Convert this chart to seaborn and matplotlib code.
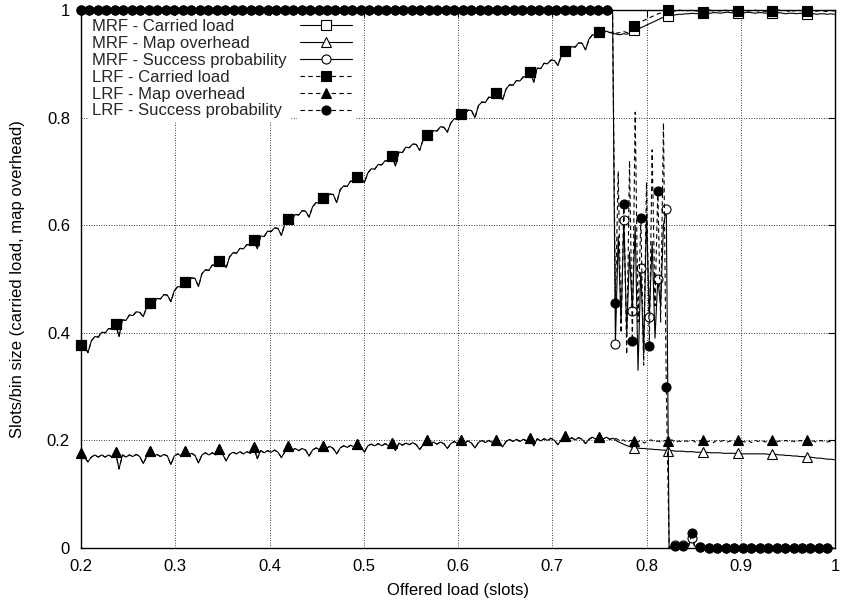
import numpy as np
import pandas as pd
import matplotlib
matplotlib.use("Agg")
import matplotlib.pyplot as plt
from matplotlib.lines import Line2D
import seaborn as sns

# ---------------- data ----------------
STEP_MAIN = 11 / 3000   # sample spacing of load / overhead curves
STEP_SUCC = 0.003       # sample spacing of success-probability curves
X_START = 0.2

# carried load, common to MRF and LRF up to x ~ 0.76
carried_common = [
    0.377, 0.376, 0.363, 0.385, 0.393, 0.392, 0.401, 0.400, 0.408, 0.407,
    0.416, 0.393, 0.424, 0.423, 0.433, 0.432, 0.439, 0.438, 0.430, 0.447,
    0.455, 0.454, 0.464, 0.463, 0.471, 0.470, 0.458, 0.478, 0.486, 0.485,
    0.495, 0.494, 0.502, 0.501, 0.486, 0.510, 0.517, 0.516, 0.526, 0.525,
    0.533, 0.532, 0.521, 0.541, 0.549, 0.548, 0.557, 0.556, 0.564, 0.563,
    0.573, 0.556, 0.580, 0.579, 0.589, 0.588, 0.595, 0.594, 0.581, 0.603,
    0.611, 0.610, 0.620, 0.619, 0.627, 0.626, 0.615, 0.634, 0.642, 0.641,
    0.651, 0.650, 0.658, 0.657, 0.642, 0.666, 0.673, 0.672, 0.682, 0.681,
    0.689, 0.688, 0.679, 0.697, 0.705, 0.704, 0.713, 0.712, 0.720, 0.719,
    0.729, 0.710, 0.736, 0.735, 0.745, 0.744, 0.751, 0.750, 0.739, 0.759,
    0.767, 0.766, 0.776, 0.775, 0.783, 0.782, 0.773, 0.790, 0.798, 0.797,
    0.807, 0.806, 0.814, 0.813, 0.800, 0.822, 0.829, 0.828, 0.838, 0.837,
    0.845, 0.844, 0.833, 0.853, 0.861, 0.860, 0.869, 0.868, 0.876, 0.875,
    0.885, 0.866, 0.892, 0.891, 0.901, 0.900, 0.907, 0.906, 0.897, 0.915,
    0.923, 0.922, 0.932, 0.931, 0.939, 0.938, 0.926, 0.946, 0.954, 0.953,
    0.960, 0.957, 0.961, 0.958]
mrf_carried_tail = [
    0.957, 0.955, 0.954, 0.956, 0.955, 0.958, 0.962, 0.964, 0.967, 0.970,
    0.973, 0.976, 0.979, 0.982, 0.985, 0.987, 0.989, 0.990, 0.991, 0.992,
    0.992, 0.993, 0.993, 0.994, 0.993, 0.994, 0.994, 0.995, 0.994, 0.995,
    0.995, 0.994, 0.995, 0.996, 0.995, 0.995, 0.994, 0.995, 0.995, 0.996,
    0.995, 0.994, 0.995, 0.995, 0.994, 0.995, 0.994, 0.994, 0.995, 0.994,
    0.993, 0.994, 0.994, 0.993, 0.994, 0.993, 0.993, 0.994, 0.993, 0.992,
    0.993, 0.993, 0.992, 0.993, 0.992]
lrf_carried_tail = [
    0.959, 0.957, 0.958, 0.960, 0.958, 0.962, 0.970, 0.974, 0.978, 0.981,
    0.984, 0.987, 0.990, 0.993, 0.995, 0.998, 1.000, 0.999, 0.998, 1.000,
    0.999, 0.998, 0.999, 1.000, 0.998, 0.999, 0.997, 0.999, 1.000, 0.998,
    0.999, 0.998, 1.000, 0.999, 0.997, 0.999, 0.998, 1.000, 0.999, 0.998,
    0.999, 1.000, 0.998, 0.999, 0.997, 0.999, 0.998, 0.999, 1.000, 0.998,
    0.999, 0.997, 0.998, 0.999, 0.998, 1.000, 0.998, 0.999, 0.997, 0.998,
    0.999, 0.998, 0.997, 0.999, 0.998]

# map overhead, common to MRF and LRF up to x ~ 0.765
overhead_common = [
    0.177, 0.169, 0.160, 0.169, 0.173, 0.169, 0.173, 0.169, 0.173, 0.169,
    0.178, 0.147, 0.173, 0.169, 0.173, 0.170, 0.174, 0.170, 0.157, 0.170,
    0.180, 0.170, 0.174, 0.170, 0.174, 0.171, 0.155, 0.171, 0.175, 0.171,
    0.181, 0.172, 0.176, 0.172, 0.158, 0.173, 0.177, 0.173, 0.177, 0.173,
    0.184, 0.174, 0.162, 0.174, 0.178, 0.175, 0.179, 0.175, 0.179, 0.176,
    0.188, 0.166, 0.181, 0.177, 0.181, 0.178, 0.182, 0.178, 0.168, 0.179,
    0.190, 0.181, 0.185, 0.181, 0.185, 0.182, 0.171, 0.182, 0.186, 0.183,
    0.190, 0.185, 0.189, 0.185, 0.175, 0.186, 0.190, 0.187, 0.191, 0.188,
    0.193, 0.189, 0.178, 0.190, 0.193, 0.190, 0.194, 0.190, 0.194, 0.190,
    0.196, 0.181, 0.195, 0.191, 0.195, 0.192, 0.196, 0.192, 0.183, 0.192,
    0.200, 0.193, 0.197, 0.193, 0.197, 0.194, 0.185, 0.194, 0.198, 0.194,
    0.200, 0.195, 0.199, 0.195, 0.186, 0.196, 0.200, 0.196, 0.200, 0.196,
    0.201, 0.197, 0.188, 0.198, 0.202, 0.198, 0.202, 0.198, 0.202, 0.199,
    0.205, 0.190, 0.203, 0.199, 0.203, 0.200, 0.204, 0.200, 0.192, 0.201,
    0.208, 0.201, 0.205, 0.201, 0.205, 0.202, 0.194, 0.202, 0.206, 0.202,
    0.207, 0.202, 0.206, 0.202, 0.204]
mrf_overhead_tail = [
    0.199, 0.196, 0.193, 0.190, 0.188, 0.186, 0.186, 0.185, 0.185, 0.184,
    0.184, 0.183, 0.183, 0.182, 0.182, 0.181, 0.181, 0.180, 0.180, 0.180,
    0.179, 0.179, 0.179, 0.178, 0.178, 0.178, 0.178, 0.177, 0.177, 0.177,
    0.177, 0.176, 0.176, 0.176, 0.176, 0.176, 0.175, 0.175, 0.175, 0.175,
    0.175, 0.175, 0.175, 0.175, 0.174, 0.174, 0.174, 0.173, 0.173, 0.172,
    0.172, 0.171, 0.171, 0.170, 0.170, 0.169, 0.169, 0.168, 0.167, 0.167,
    0.166, 0.165, 0.165, 0.164]
lrf_overhead_tail = [
    0.203, 0.199, 0.201, 0.196, 0.200, 0.199, 0.197, 0.200, 0.195, 0.199,
    0.201, 0.197, 0.199, 0.196, 0.200, 0.198, 0.201, 0.196, 0.199, 0.197,
    0.199, 0.198, 0.200, 0.196, 0.199, 0.201, 0.197, 0.199, 0.196, 0.200,
    0.198, 0.200, 0.197, 0.199, 0.196, 0.200, 0.199, 0.197, 0.200, 0.196,
    0.200, 0.198, 0.200, 0.197, 0.199, 0.201, 0.196, 0.199, 0.198, 0.200,
    0.197, 0.199, 0.196, 0.200, 0.198, 0.201, 0.197, 0.199, 0.196, 0.200,
    0.198, 0.197, 0.199, 0.198]

success_full = [1.0] * 189
mrf_success_chaos = [0.38, 0.58, 0.42, 0.61, 0.40, 0.55, 0.44, 0.60, 0.33, 0.52,
                     0.36, 0.62, 0.43, 0.57, 0.39, 0.50, 0.45, 0.60, 0.63]
lrf_success_chaos = [0.455, 0.70, 0.40, 0.64, 0.36, 0.72, 0.385, 0.81, 0.42, 0.613,
                     0.34, 0.68, 0.375, 0.74, 0.45, 0.664, 0.42, 0.79, 0.30]
mrf_success_tail = [0.0, 0.003, 0.006, 0.004, 0.008, 0.005, 0.010, 0.007, 0.018,
                    0.004, 0.0, 0.002] + [0.0] * 47
lrf_success_tail = [0.0, 0.002, 0.004, 0.002, 0.005, 0.003, 0.007, 0.004, 0.028,
                    0.003, 0.0, 0.001] + [0.0] * 47

series_labels = ["MRF - Carried load", "MRF - Map overhead", "MRF - Success probability",
                 "LRF - Carried load", "LRF - Map overhead", "LRF - Success probability"]
x_ticks = [0.2, 0.3, 0.4, 0.5, 0.6, 0.7, 0.8, 0.9, 1.0]
x_ticklabels = ["0.2", "0.3", "0.4", "0.5", "0.6", "0.7", "0.8", "0.9", "1"]
y_ticks = [0.0, 0.2, 0.4, 0.6, 0.8, 1.0]
y_ticklabels = ["0", "0.2", "0.4", "0.6", "0.8", "1"]
x_label = "Offered load (slots)"
y_label = "Slots/bin size (carried load, map overhead)"

mrf_carried = carried_common + mrf_carried_tail
lrf_carried = carried_common + lrf_carried_tail
mrf_overhead = overhead_common + mrf_overhead_tail
lrf_overhead = overhead_common + lrf_overhead_tail
mrf_success = success_full + mrf_success_chaos + mrf_success_tail
lrf_success = success_full + lrf_success_chaos + lrf_success_tail

# ---------------- drawing ----------------
sns.set_theme(style="white")
plt.rcParams["font.family"] = ["Liberation Sans", "DejaVu Sans"]

fig = plt.figure(figsize=(8.47, 6.03), dpi=100)
W, H = 847, 603
L, R, T, B = 81, 835, 10, 548
ax = fig.add_axes([L / W, 1 - B / H, (R - L) / W, (B - T) / H])

SOLID = "-"
DASHED = (0, (4, 3))


def draw(y, step, label, ls, marker, filled, every, ms, z):
    x = X_START + np.arange(len(y)) * step
    df = pd.DataFrame({"x": x, "y": y})
    sns.lineplot(data=df, x="x", y="y", ax=ax, color="black", lw=0.8,
                 linestyle=ls, marker=marker, markersize=ms,
                 markerfacecolor="black" if filled else "white",
                 markeredgecolor="black", markeredgewidth=0.8,
                 markevery=every, label=label, estimator=None, sort=False,
                 clip_on=False, zorder=z)


draw(mrf_carried, STEP_MAIN, series_labels[0], SOLID, "s", False, 10, 7, 3)
draw(mrf_overhead, STEP_MAIN, series_labels[1], SOLID, "^", False, 10, 7, 3)
draw(mrf_success, STEP_SUCC, series_labels[2], SOLID, "o", False, 3, 6.5, 6)
draw(lrf_carried, STEP_MAIN, series_labels[3], DASHED, "s", True, 10, 7, 4)
draw(lrf_overhead, STEP_MAIN, series_labels[4], DASHED, "^", True, 10, 7, 4)
draw(lrf_success, STEP_SUCC, series_labels[5], DASHED, "o", True, 3, 6.5, 7)

ax.set_xlim(0.2, 1.0)
ax.set_ylim(0.0, 1.0)
ax.set_xticks(x_ticks)
ax.set_xticklabels(x_ticklabels)
ax.set_yticks(y_ticks)
ax.set_yticklabels(y_ticklabels)
ax.tick_params(axis="both", direction="in", length=5, width=0.8, labelsize=12,
               top=True, right=True, color="black", labelcolor="black", pad=8)
for s in ax.spines.values():
    s.set_color("black")
    s.set_linewidth(1.0)
ax.grid(True, color="black", linestyle=(0, (1, 2)), linewidth=0.6)
ax.set_axisbelow(True)

ax.set_xlabel(x_label, fontsize=12, color="black")
ax.set_ylabel(y_label, fontsize=12, color="black")
ax.xaxis.set_label_coords(0.5, -(583 - B) / (B - T))
ax.xaxis.label.set_va("top")
ax.yaxis.set_label_coords(-(L - 25) / (R - L), 0.5)

# gnuplot-style key: left-aligned texts, line samples in a column to the right
handles, labels = ax.get_legend_handles_labels()
common = dict(loc="upper left", borderaxespad=0, frameon=True, fancybox=False,
              framealpha=1.0, facecolor="white", edgecolor="none",
              labelspacing=0.11, borderpad=0.2, fontsize=12)
blank = [Line2D([], [], linestyle="none") for _ in handles]
leg_text = ax.legend(blank, labels, bbox_to_anchor=((88.5 - L) / (R - L), 0.989),
                     handlelength=0, handletextpad=0, **common)
leg_text.set_zorder(5)
ax.add_artist(leg_text)
leg_keys = ax.legend(handles, [""] * len(handles),
                     bbox_to_anchor=((296.5 - L) / (R - L), 0.989),
                     handlelength=3.1, handletextpad=0, **common)
leg_keys.set_zorder(5)

fig.savefig("out.png", dpi=100)
